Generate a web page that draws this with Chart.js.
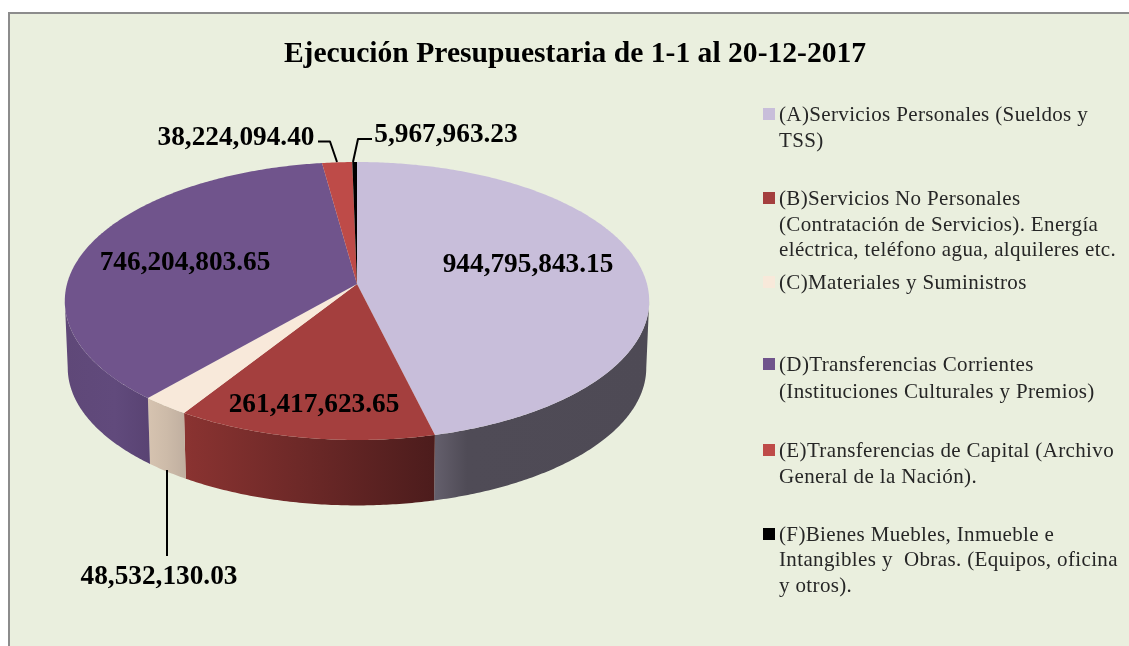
<!DOCTYPE html>
<html><head><meta charset="utf-8">
<style>html,body{margin:0;padding:0;background:#fff}canvas{display:block}</style>
<script src="https://cdn.jsdelivr.net/npm/chart.js@4"></script>
</head><body>
<div style="width:1129px;height:646px"><canvas id="c" width="1129" height="646"></canvas></div>
<script>
const titleText = 'Ejecución Presupuestaria de 1-1 al 20-12-2017';
const categories = ['(A)Servicios Personales (Sueldos y TSS)','(B)Servicios No Personales (Contratación de Servicios). Energía eléctrica, teléfono agua, alquileres etc.','(C)Materiales y Suministros','(D)Transferencias Corrientes (Instituciones Culturales y Premios)','(E)Transferencias de Capital (Archivo General de la Nación).','(F)Bienes Muebles, Inmueble e Intangibles y  Obras. (Equipos, oficina y otros).'];
const values = [944795843.15,261417623.65,48532130.03,746204803.65,38224094.40,5967963.23];
const legendLines = [['(A)Servicios Personales (Sueldos y','TSS)'],['(B)Servicios No Personales','(Contratación de Servicios). Energía','eléctrica, teléfono agua, alquileres etc.'],['(C)Materiales y Suministros'],['(D)Transferencias Corrientes','(Instituciones Culturales y Premios)'],['(E)Transferencias de Capital (Archivo','General de la Nación).'],['(F)Bienes Muebles, Inmueble e','Intangibles y  Obras. (Equipos, oficina','y otros).']];
const topColors = ['#C8BEDA','#A43F3E','#F8E9DA','#70548C','#BE4B48','#000000'];
const wallStops = [[[0,'#645F6C'],[0.15,'#4F4B56'],[1,'#4E4A55']],[[0,'#8A3331'],[0.5,'#6B2827'],[1,'#4C1C1C']],[[0,'#D6C3B0'],[0.5,'#CDBBA9'],[1,'#C0AFA0']],[[0,'#5F4878'],[0.6,'#614A7C'],[1,'#594373']],[[0,'#8A3331'],[1,'#8A3331']],[[0,'#000'],[1,'#000']]];

const legendBaselines = [[121,147],[205,231,256],[289],[371,398],[457,483],[541,566,592]];
const legendBoxY = [108,192,276,358,444,528];
const labelPos = [[528,265],[314,405],[159,577],[185,263],[236,138],[446,135]];
const leaders = [null,null,[[167,470],[167,556]],null,[[318,141.5],[330,141.5],[337,162]],[[372,139],[358,139],[353,162]]];

const K = 0.1223, VY = 136.9/290, DEPTH = 67, BOT = 0.99;
function proj(el, a, bottom){
  const u = Math.cos(a), v = Math.sin(a), d = 1 - K*v, s = bottom ? BOT : 1;
  return [el.x + el.outerRadius*s*u/d, el.y + el.outerRadius*VY*s*v/d + (bottom?DEPTH:0)];
}
function samples(a0,a1){
  const n = Math.max(2, Math.ceil((a1-a0)/0.01)), out = [];
  for(let i=0;i<=n;i++) out.push(a0+(a1-a0)*i/n);
  return out;
}
const pie3d = {
  id:'pie3d',
  beforeDraw(chart){
    const ctx = chart.ctx;
    ctx.save();
    ctx.fillStyle='#fff'; ctx.fillRect(0,0,1129,646);
    ctx.fillStyle='#EAEFDE'; ctx.fillRect(8,12,1121,634);
    ctx.fillStyle='#8C8C8C'; ctx.fillRect(8,12,1121,2); ctx.fillRect(8,12,2,634);
    ctx.restore();
  },
  beforeDatasetDraw(chart,args){
    const ctx = chart.ctx, arcs = args.meta.data;
    const vis0 = Math.asin(K), vis1 = Math.PI-vis0;
    ctx.save();
    // side walls: only the part of each rim facing the viewer
    arcs.forEach((el,i)=>{
      const a0 = Math.max(el.startAngle,vis0), a1 = Math.min(el.endAngle,vis1);
      if(a1<=a0) return;
      const as = samples(a0,a1);
      ctx.beginPath();
      as.forEach((a,j)=>{const p=proj(el,a,false); j?ctx.lineTo(p[0],p[1]):ctx.moveTo(p[0],p[1]);});
      as.slice().reverse().forEach(a=>{const p=proj(el,a,true); ctx.lineTo(p[0],p[1]);});
      ctx.closePath();
      const xs = as.map(a=>proj(el,a,false)[0]);
      const g = ctx.createLinearGradient(Math.min(...xs),0,Math.max(...xs)+1,0);
      wallStops[i].forEach(s=>g.addColorStop(s[0],s[1]));
      ctx.fillStyle=g; ctx.fill();
    });
    // top faces
    arcs.forEach((el,i)=>{
      ctx.beginPath();
      ctx.moveTo(el.x,el.y);
      samples(el.startAngle,el.endAngle).forEach(a=>{const p=proj(el,a,false); ctx.lineTo(p[0],p[1]);});
      ctx.closePath();
      ctx.fillStyle=el.options.backgroundColor; ctx.fill();
    });
    ctx.restore();
    return false;
  },
  afterDatasetsDraw(chart){
    const ctx = chart.ctx;
    ctx.save();
    ctx.strokeStyle='#000'; ctx.lineWidth=2; ctx.lineJoin='round';
    leaders.forEach(l=>{ if(!l) return; ctx.beginPath(); l.forEach((p,j)=>j?ctx.lineTo(p[0],p[1]):ctx.moveTo(p[0],p[1])); ctx.stroke(); });
    ctx.fillStyle='#000'; ctx.textAlign='center'; ctx.textBaseline='middle';
    ctx.font='bold 27.3px "Liberation Serif"';
    values.forEach((v,i)=>{ ctx.fillText(v.toLocaleString('en-US',{minimumFractionDigits:2,maximumFractionDigits:2}),labelPos[i][0],labelPos[i][1]); });
    ctx.font='bold 29.6px "Liberation Serif"';
    ctx.fillText(titleText,575,54);
    ctx.textAlign='left'; ctx.textBaseline='alphabetic';
    ctx.font='21px "Liberation Serif"';
    ctx.letterSpacing='0.36px';
    legendLines.forEach((ls,i)=>{
      ctx.fillStyle=topColors[i]; ctx.fillRect(763,legendBoxY[i],12,12);
      ctx.fillStyle='#262626';
      ls.forEach((t,j)=>ctx.fillText(t,779,legendBaselines[i][j]));
    });
    ctx.restore();
  }
};
new Chart(document.getElementById('c'),{
  type:'pie',
  data:{labels:categories,datasets:[{data:values,backgroundColor:topColors,borderWidth:0}]},
  options:{responsive:false,animation:false,radius:290,
    layout:{padding:{left:67,right:482,top:0,bottom:78}},
    plugins:{legend:{display:false},tooltip:{enabled:false},title:{display:false}}},
  plugins:[pie3d]
});
</script>
</body></html>
